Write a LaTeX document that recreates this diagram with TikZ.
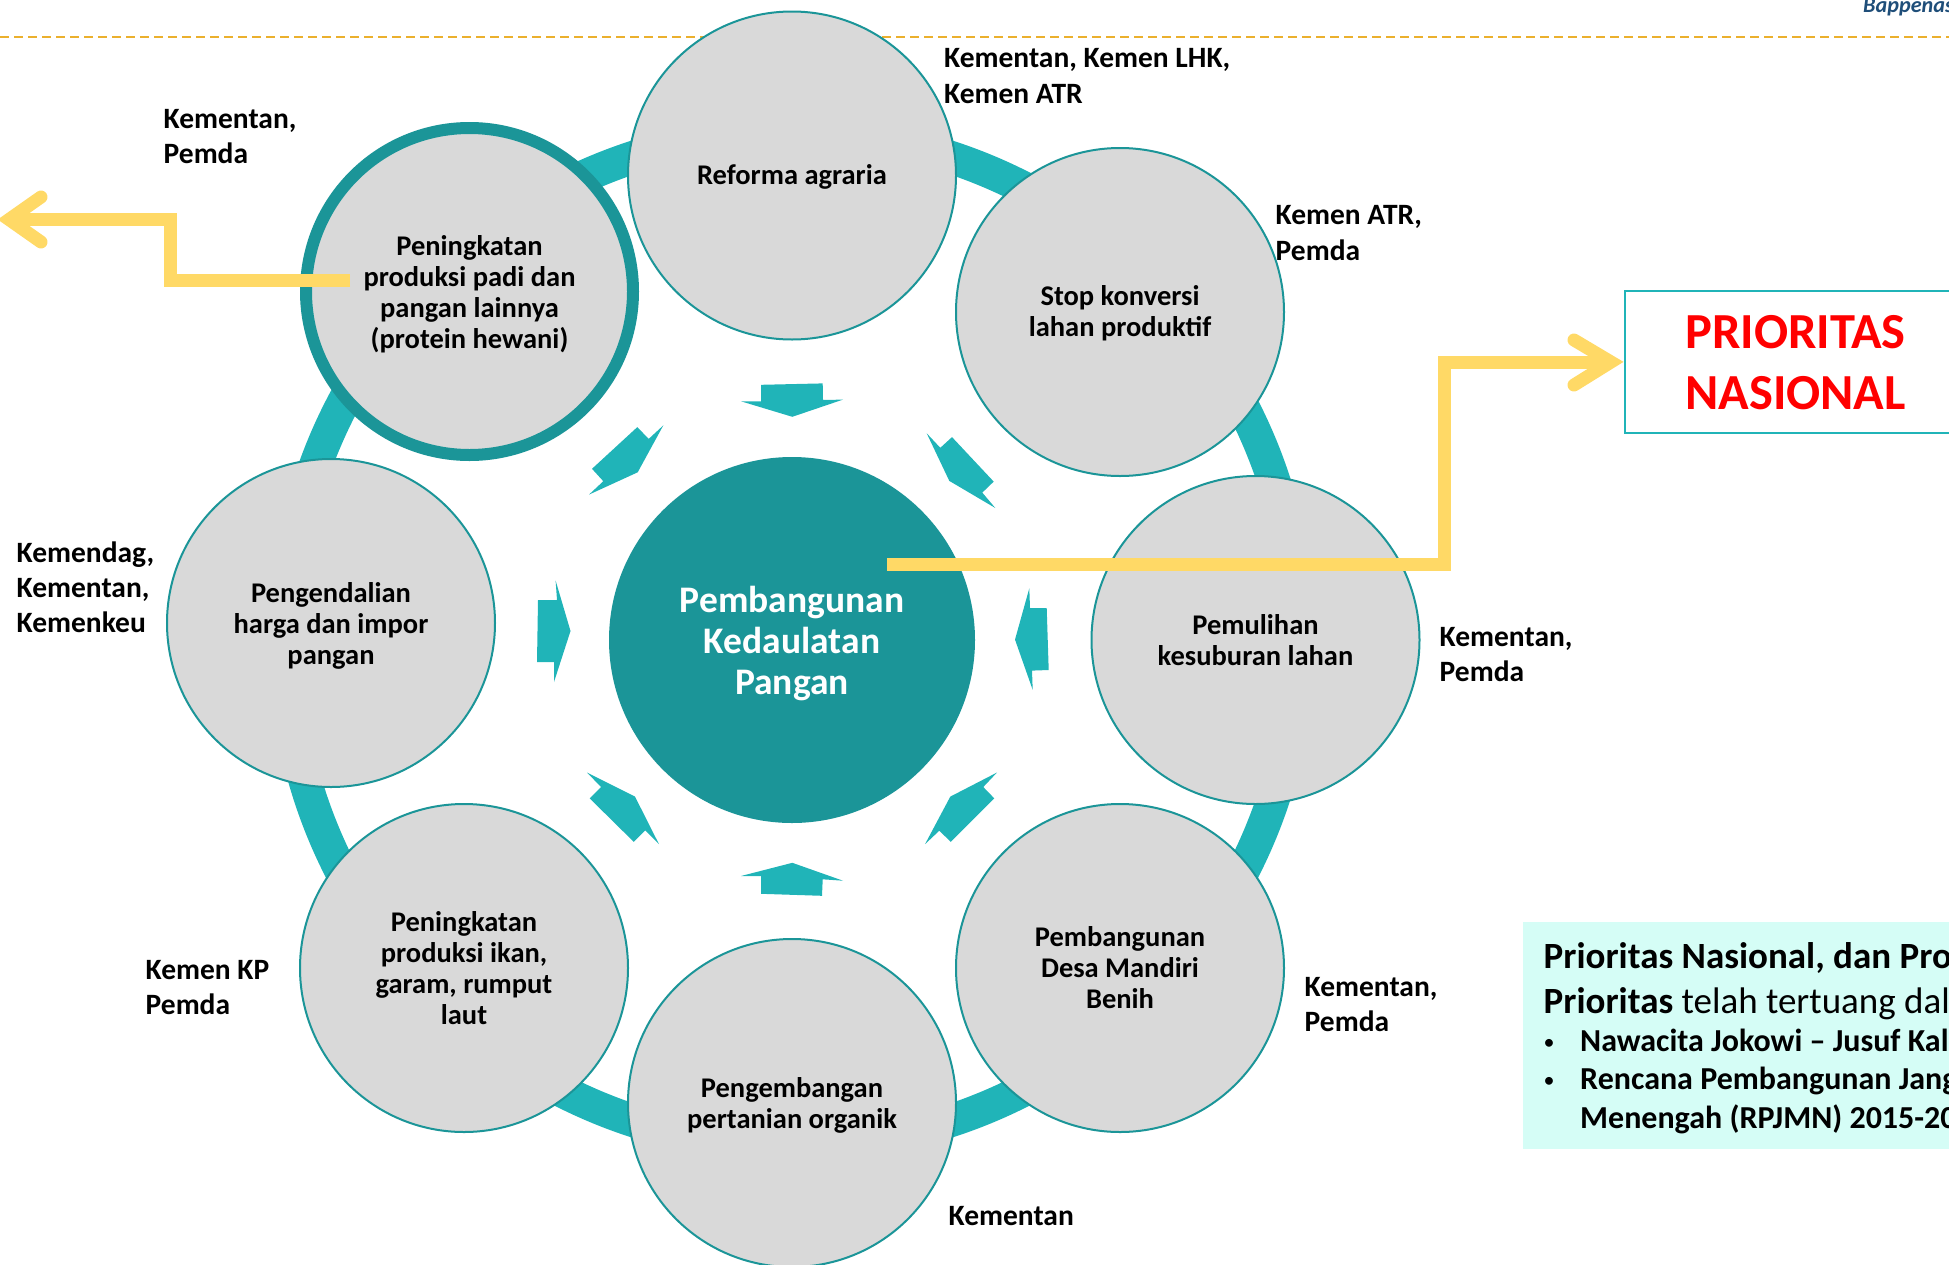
\documentclass[tikz,border=0pt]{standalone}
\usepackage{fontspec}
\setmainfont{Carlito}
\definecolor{tealdark}{HTML}{1B9598}
\definecolor{tealring}{HTML}{20B4B8}
\definecolor{circgrey}{HTML}{D9D9D9}
\definecolor{yell}{HTML}{FFD966}
\definecolor{dashy}{HTML}{EBB02D}
\definecolor{mint}{HTML}{D5FDF6}
\definecolor{bapblue}{HTML}{1F4E79}
\newcommand\lowerby[1]{\rule{0pt}{#1pt}}
\tikzset{
  topic/.style={circle,draw=tealdark,line width=2,fill=circgrey,minimum size=328,inner sep=0,align=center,font=\fontsize{28.5}{31}\selectfont\bfseries},
  hub/.style={topic,line width=12,minimum size=327},
  actor/.style={anchor=west,inner sep=0,align=left,font=\fontsize{29.5}{35.2}\selectfont\bfseries},
  pointer/.style={fill=tealring,draw=none},
  flow/.style={draw=yell,line width=13,miter limit=20},
  barb/.style={draw=yell,line width=13,line cap=round,miter limit=20},
  boxhead/.style={anchor=base west,inner sep=0,font=\fontsize{37}{40}\selectfont},
  boxitem/.style={anchor=base west,inner sep=0,font=\fontsize{32}{38}\selectfont\bfseries}
}
\begin{document}
\begin{tikzpicture}[x=1pt,y=-1pt]
\useasboundingbox (0,0) rectangle (1949,1264);
\clip (0,0) rectangle (1949,1264);
% header
\node[anchor=base west,inner sep=0,text=bapblue,font=\fontsize{22.2}{24}\selectfont\bfseries\itshape] (bappenas) at (1863,12) {Bappenas};
\draw[dashy,line width=1.6,dash pattern=on 9 off 5] (0,37) -- (1949,37);
% ring
\draw[tealring,line width=33] (792,639) circle[radius=507];
% circles
\node[topic] (reforma) at (792,175.5) {\lowerby{23}Reforma agraria};
\node[topic] (stop) at (1120,312) {\lowerby{23}Stop konversi\\lahan produktif};
\node[topic] (pulih) at (1255.5,640) {Pemulihan\\kesuburan lahan};
\node[topic] (desa) at (1120,968) {Pembangunan\\Desa Mandiri\\Benih};
\node[topic] (organik) at (792,1103) {\lowerby{25}Pengembangan\\pertanian organik};
\node[topic] (ikan) at (464,968) {Peningkatan\\produksi ikan,\\garam, rumput\\laut};
\node[topic] (harga) at (331,623) {\lowerby{25}Pengendalian\\harga dan impor\\pangan};
\node[hub] (padi) at (469.5,291.5) {\lowerby{25}Peningkatan\\produksi padi dan\\pangan lainnya\\(protein hewani)};
\node[circle,fill=tealdark,minimum size=366,inner sep=0,align=center,text=white,font=\fontsize{37.5}{41}\selectfont\bfseries] (center) at (792,640) {\lowerby{33}Pembangunan\\Kedaulatan\\Pangan};
% small arrows
\fill[pointer] (761,384.8)--(822.7,383.4)--(823,400)--(843,399.6)--(792.3,416.8)--(741,401.3)--(761,401.3)--cycle;
\fill[pointer] (926.7,433.3)--(940.3,447.8)--(952,437.1)--(993.7,481.6)--(982.3,492.6)--(995.3,508)--(949.3,480.9)--cycle;
\fill[pointer] (1029.3,588.3)--(1030,608)--(1046.7,608)--(1048.7,670)--(1032,670.6)--(1032.7,689.9)--(1015,639.6)--cycle;
\fill[pointer] (997,772.5)--(983.3,787)--(994.3,798.4)--(950.7,841.8)--(939.3,830.7)--(925,844.2)--(950.3,796.6)--cycle;
\fill[pointer] (792.3,862.8)--(843,880.7)--(822.7,879.3)--(822,895.8)--(761,893.8)--(761,876)--(741,876)--cycle;
\fill[pointer] (587,772.5)--(635,796.6)--(659,844.2)--(645.3,830.4)--(633.7,841.8)--(589.7,798.4)--(601,787)--cycle;
\fill[pointer] (555.6,580.5)--(557,600)--(538,600)--(537,662)--(554,662)--(554,682)--(570.5,631)--cycle;
\fill[pointer] (663.3,425.4)--(637.7,472.3)--(589,494.6)--(603.3,481.2)--(592,468.8)--(637.3,427.1)--(648.7,438.9)--cycle;
% actor labels
\node[actor] (a1) at (944,76) {Kementan, Kemen LHK,\\Kemen ATR};
\node[actor] (a2) at (1275.5,233) {Kemen ATR,\\Pemda};
\node[actor] (a3) at (1439.5,654.5) {Kementan,\\Pemda};
\node[actor] (a4) at (1304.5,1004.5) {Kementan,\\Pemda};
\node[actor] (a5) at (948.5,1216) {Kementan};
\node[actor] (a6) at (145.5,987.5) {Kemen KP\\Pemda};
\node[actor] (a7) at (16.5,587.5) {Kemendag,\\Kementan,\\Kemenkeu};
\node[actor] (a8) at (163.5,136.5) {Kementan,\\Pemda};
% priority box
\node[draw=tealring,line width=2,fill=white,minimum width=400,minimum height=142,anchor=north west,inner sep=0,outer sep=0] (prio) at (1625,291) {};
\node[inner sep=0,align=center,text=red,font=\fontsize{50.5}{61}\selectfont\bfseries] (priotext) at (1795.5,362.5) {PRIORITAS\\NASIONAL};
% note box
\node[fill=mint,minimum width=460,minimum height=227,anchor=north west,inner sep=0] (note) at (1523,921.5) {};
\node[boxhead] (n1) at (1543.5,968) {\bfseries Prioritas Nasional, dan Pro};
\node[boxhead] (n2) at (1543.5,1013) {\textbf{Prioritas} telah tertuang dal};
\node[boxitem,font=\fontsize{22}{24}\selectfont] (b1) at (1543.5,1049) {•};
\node[boxitem] (n3) at (1580,1051) {Nawacita Jokowi – Jusuf Kal};
\node[boxitem,font=\fontsize{22}{24}\selectfont] (b2) at (1543.5,1087) {•};
\node[boxitem] (n4) at (1580,1089.5) {Rencana Pembangunan Jang};
\node[boxitem] (n5) at (1580,1128) {Menengah (RPJMN) 2015-20};
% yellow connectors
\coordinate (fromcenter) at (887,564.5);
\coordinate (elbow1) at (1444.5,564.5);
\coordinate (elbow2) at (1444.5,362);
\coordinate (tipright) at (1611,362);
\coordinate (barbr1) at (1574,340);
\coordinate (barbr2) at (1574,385);
\draw[flow] (fromcenter) -- (elbow1) -- (elbow2) -- (tipright);
\draw[barb] (barbr1) -- (tipright) -- (barbr2);
\coordinate (frompadi) at (350,280.5);
\coordinate (elbow3) at (170.5,280.5);
\coordinate (elbow4) at (170.5,219.5);
\coordinate (tipleft) at (9,219.5);
\coordinate (barbl1) at (41,197);
\coordinate (barbl2) at (41,242);
\draw[flow] (frompadi) -- (elbow3) -- (elbow4) -- (tipleft);
\draw[barb] (barbl1) -- (tipleft) -- (barbl2);
\end{tikzpicture}
\end{document}
